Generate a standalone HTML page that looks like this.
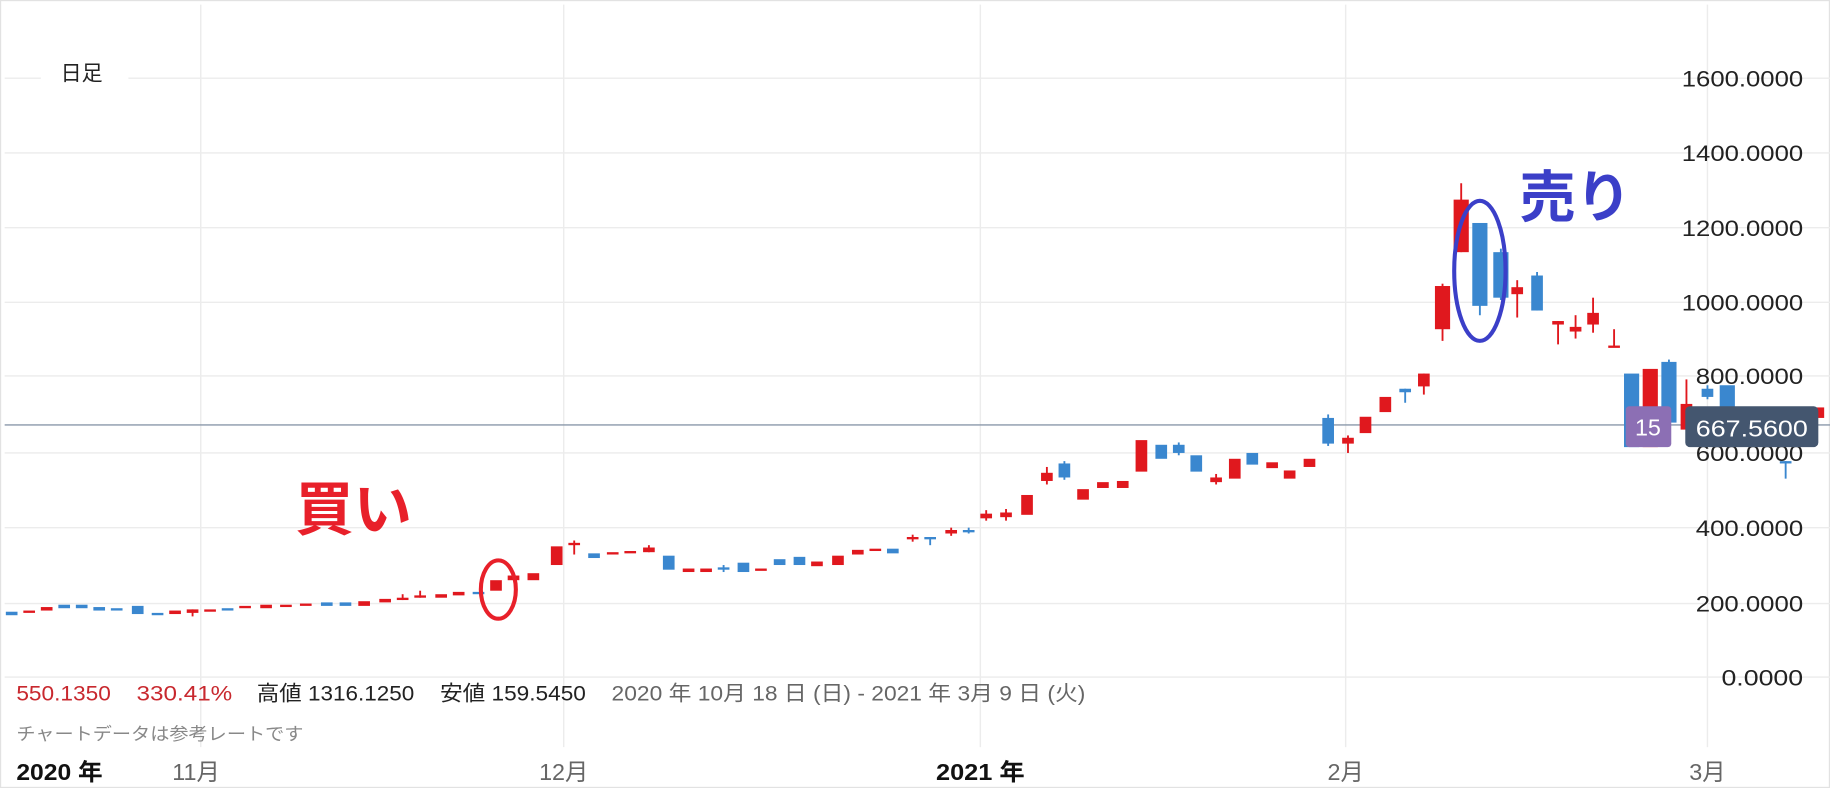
<!DOCTYPE html>
<html><head><meta charset="utf-8"><style>
html,body{margin:0;padding:0;background:#fff;}
svg{display:block;}
text{font-family:"Liberation Sans","Noto Sans CJK JP",sans-serif;}
</style></head><body>
<svg id="s" width="1830" height="788" viewBox="0 0 1568 675" preserveAspectRatio="none" xmlns="http://www.w3.org/2000/svg">
<rect x="0.5" y="0.5" width="1567" height="674" fill="#fff" stroke="#e2e2e2"/>
<g stroke="#ececec" stroke-width="1.2">
<line x1="4" y1="67" x2="35" y2="67"/><line x1="110" y1="67" x2="1568" y2="67"/>
<line x1="4" y1="131" x2="1568" y2="131"/><line x1="4" y1="195" x2="1568" y2="195"/>
<line x1="4" y1="259" x2="1568" y2="259"/><line x1="4" y1="322" x2="1568" y2="322"/>
<line x1="4" y1="388" x2="1568" y2="388"/><line x1="4" y1="452" x2="1568" y2="452"/>
<line x1="4" y1="517" x2="1568" y2="517"/><line x1="4" y1="580" x2="1568" y2="580"/>
<line x1="172" y1="4" x2="172" y2="640"/><line x1="483" y1="4" x2="483" y2="640"/>
<line x1="840" y1="4" x2="840" y2="640"/><line x1="1153" y1="4" x2="1153" y2="640"/>
<line x1="1463" y1="4" x2="1463" y2="640"/>
</g>
<line x1="4" y1="364" x2="1568" y2="364" stroke="#8a98aa" stroke-width="1.2"/>
<g id="c"></g>
<text x="52" y="69" font-size="18" fill="#222">日足</text>
<g font-size="19" fill="#222" text-anchor="end">
<text x="1545" y="74" textLength="104" lengthAdjust="spacingAndGlyphs">1600.0000</text><text x="1545" y="138" textLength="104" lengthAdjust="spacingAndGlyphs">1400.0000</text>
<text x="1545" y="202" textLength="104" lengthAdjust="spacingAndGlyphs">1200.0000</text><text x="1545" y="266" textLength="104" lengthAdjust="spacingAndGlyphs">1000.0000</text>
<text x="1545" y="329" textLength="92" lengthAdjust="spacingAndGlyphs">800.0000</text><text x="1545" y="395" textLength="92" lengthAdjust="spacingAndGlyphs">600.0000</text>
<text x="1545" y="459" textLength="92" lengthAdjust="spacingAndGlyphs">400.0000</text><text x="1545" y="524" textLength="92" lengthAdjust="spacingAndGlyphs">200.0000</text>
<text x="1545" y="587" textLength="70" lengthAdjust="spacingAndGlyphs">0.0000</text>
</g>
<rect x="1393" y="348" width="39" height="35" rx="3" fill="#8c6fb4"/>
<text x="1412" y="373" font-size="20" fill="#fff" text-anchor="middle">15</text>
<rect x="1444" y="348" width="114" height="35" rx="4" fill="#44566f"/>
<text x="1501" y="374" font-size="20" fill="#fff" text-anchor="middle" textLength="96" lengthAdjust="spacingAndGlyphs">667.5600</text>
<g font-size="18">
<text x="14" y="600" fill="#c8282e" textLength="81" lengthAdjust="spacingAndGlyphs">550.1350</text>
<text x="117" y="600" fill="#c8282e" textLength="82" lengthAdjust="spacingAndGlyphs">330.41%</text>
<text x="220" y="600" fill="#222" textLength="135" lengthAdjust="spacingAndGlyphs">高値 1316.1250</text>
<text x="377" y="600" fill="#222" textLength="125" lengthAdjust="spacingAndGlyphs">安値 159.5450</text>
<text x="524" y="600" fill="#666" textLength="406" lengthAdjust="spacingAndGlyphs">2020 年 10月 18 日 (日) - 2021 年 3月 9 日 (火)</text>
</g>
<text x="14" y="634" font-size="15" fill="#888" textLength="246" lengthAdjust="spacingAndGlyphs">チャートデータは参考レートです</text>
<g font-size="20">
<text x="14" y="668" fill="#111" font-weight="bold" textLength="74" lengthAdjust="spacingAndGlyphs">2020 年</text>
<text x="168" y="668" fill="#666" text-anchor="middle">11月</text>
<text x="483" y="668" fill="#666" text-anchor="middle">12月</text>
<text x="840" y="668" fill="#111" text-anchor="middle" font-weight="bold" textLength="76" lengthAdjust="spacingAndGlyphs">2021 年</text>
<text x="1153" y="668" fill="#666" text-anchor="middle">2月</text>
<text x="1463" y="668" fill="#666" text-anchor="middle">3月</text>
</g>
<text x="253" y="454" font-size="50" font-weight="bold" fill="#e8202a">買い</text>
<text x="1302" y="186" font-size="48" font-weight="bold" fill="#3b3fc8">売り</text>
<ellipse cx="427" cy="505" rx="15" ry="25" fill="none" stroke="#e8202a" stroke-width="3.5"/>
<ellipse cx="1268" cy="232" rx="22" ry="60" fill="none" stroke="#3b3fc8" stroke-width="3.5"/>
</svg>
<script>
var R="#e0181e",B="#3a87cf";
var d=[[10,524,527,0,0,B],[25,523,525,0,0,R],[40,520,523,0,0,R],[55,518,521,0,0,B],[70,518,521,0,0,B],[85,520,523,0,0,B],[100,521,523,0,0,B],[118,519,526,0,0,B],[135,525,527,0,0,B],[150,523,526,0,0,R],[165,522,525,522,528,R],[180,522,524,0,0,R],[195,521,523,0,0,B],[210,519,521,0,0,R],[228,518,521,0,0,R],[245,518,520,0,0,R],[262,517,519,0,0,R],[280,516,519,0,0,B],[296,516,519,0,0,B],[312,515,519,0,0,R],[330,513,516,0,0,R],[345,512,514,509,514,R],[360,510,512,506,512,R],[378,509,512,0,0,R],[393,507,510,0,0,R],[410,507,509,0,0,B],[425,497,506,0,0,R],[440,493,497,0,0,R],[457,491,497,0,0,R],[477,468,484,0,0,R],[492,465,467,463,475,R],[509,474,478,0,0,B],[525,473,475,0,0,R],[540,472,474,0,0,R],[556,469,473,467,473,R],[573,476,488,0,0,B],[590,487,490,0,0,R],[605,487,490,0,0,R],[620,486,488,484,490,B],[637,482,490,0,0,B],[652,487,489,0,0,R],[668,479,484,0,0,B],[685,477,484,0,0,B],[700,481,485,0,0,R],[718,476,484,0,0,R],[735,471,475,0,0,R],[750,470,472,0,0,R],[765,470,474,0,0,B],[782,460,462,458,464,R],[797,460,462,460,467,B],[815,454,457,452,459,R],[830,454,456,452,457,B],[845,440,444,437,446,R],[862,439,443,436,446,R],[880,424,441,0,0,R],[897,405,412,400,415,R],[912,397,409,395,411,B],[928,419,428,0,0,R],[945,413,418,0,0,R],[962,412,418,0,0,R],[978,377,404,0,0,R],[995,381,393,0,0,B],[1010,381,388,379,390,B],[1025,390,404,0,0,B],[1042,409,413,406,415,R],[1058,393,410,0,0,R],[1073,388,398,0,0,B],[1090,396,401,0,0,R],[1105,403,410,0,0,R],[1122,393,400,0,0,R],[1138,358,380,355,382,B],[1155,375,380,373,388,R],[1170,357,371,0,0,R],[1187,340,353,0,0,R],[1204,333,336,333,345,B],[1220,320,331,320,338,R],[1236,245,282,243,292,R],[1252,171,216,157,216,R],[1268,191,262,191,270,B],[1286,216,255,213,257,B],[1300,246,252,240,272,R],[1317,236,266,233,266,B],[1335,275,278,275,295,R],[1350,280,284,270,290,R],[1365,268,278,255,285,R],[1383,296,297,282,297,R],[1398,320,383,0,0,B],[1414,316,383,0,0,R],[1430,310,362,308,362,B],[1445,346,368,325,368,R],[1463,333,340,330,342,B],[1480,330,370,0,0,B],[1530,395,397,395,410,B],[1558,349,358,0,0,R]];
var g=document.getElementById("c"),h="";
d.forEach(function(c){var w=(c[2]-c[1]>30)?13:10;
if(c[3])h+='<line x1="'+c[0]+'" x2="'+c[0]+'" y1="'+c[3]+'" y2="'+c[4]+'" stroke="'+c[5]+'" stroke-width="1.6"/>';
h+='<rect x="'+(c[0]-w/2)+'" y="'+c[1]+'" width="'+w+'" height="'+Math.max(2,c[2]-c[1])+'" fill="'+c[5]+'"/>';});
g.innerHTML=h;
</script>
</body></html>
